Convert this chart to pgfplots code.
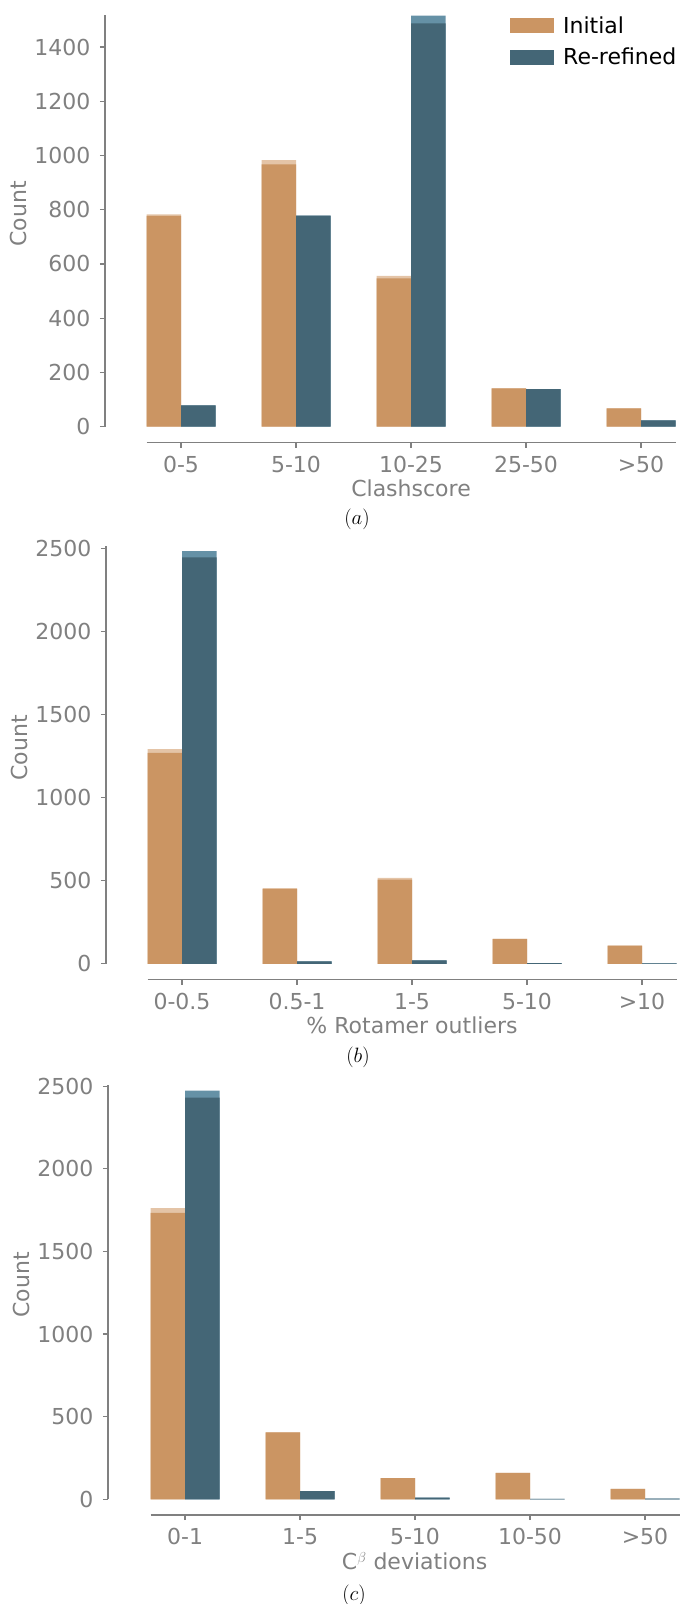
\documentclass[border=0pt]{standalone}
\usepackage[no-math]{fontspec}
\setmainfont{DejaVu Sans}
\usepackage{pgfplots}
\pgfplotsset{compat=1.18}
\definecolor{orng}{RGB}{203,149,99}
\definecolor{orngl}{RGB}{228,196,167}
\definecolor{blu}{RGB}{68,102,118}
\definecolor{blul}{RGB}{101,145,166}
\definecolor{txtgray}{RGB}{128,128,128}
\newcommand{\bigfont}{\fontsize{22}{26}\selectfont}
\pgfplotsset{
 sqleg/.style={legend image code/.code={\fill[##1] (0pt,-7.5pt) rectangle (44pt,7.5pt);}},
 panel/.style={
  scale only axis, clip=false, enlargelimits=false,
  axis lines=left, axis line style={draw=none},
  tick align=outside, major tick length=5pt,
  tick style={txtgray, line width=1.2pt},
  ybar, bar width=0.3,
  xtick={0,...,4},
  xmax=4.3,
  ticklabel style={font=\bigfont, text=txtgray},
  xticklabel style={yshift=-5pt},
  yticklabel style={xshift=-6pt},
  /pgf/number format/assume math mode=true,
  /pgf/number format/1000 sep={},
  scaled y ticks=false,
  ylabel={Count},
  every axis y label/.style={at={(axis description cs:-0.1516,0.535)}, rotate=90, anchor=center, font=\bigfont, text=txtgray},
  every axis x label/.style={at={(axis description cs:0.5364,0)}, yshift=-46pt, anchor=center, font=\bigfont, text=txtgray},
 },
}
\begin{document}
\begin{tikzpicture}
\path[use as bounding box] (0pt,0pt) rectangle (681pt,-1604pt);

% ---------- (a) Clashscore ----------
\begin{axis}[panel,
  at={(105pt,-442.7pt)}, anchor=south west,
  width=570.5pt, height=427.4pt,
  xmin=-0.661, ymin=-59, ymax=1517,
  ytick={0,200,...,1400},
  xticklabels={0-5,5-10,10-25,25-50,>50},
  xlabel={Clashscore},
  legend style={at={(axis description cs:0.7046,1.0065)}, anchor=north west, draw=none, fill=none, font=\bigfont, text=black, legend cell align=left, /tikz/column sep=7pt, /tikz/row sep=9pt},
]
\addplot[fill=orngl, draw=none, bar shift=-0.15, forget plot] coordinates {(0,783) (1,983) (2,556) (3,141) (4,68)};
\addplot[fill=blul, draw=none, bar shift=0.15, forget plot] coordinates {(0,79) (1,778) (2,1516) (3,139) (4,23)};
\addplot[fill=orng, draw=none, bar shift=-0.15, sqleg] coordinates {(0,777) (1,967) (2,547) (3,141) (4,68)};
\addplot[fill=blu, draw=none, bar shift=0.15, sqleg] coordinates {(0,79) (1,778) (2,1487) (3,139) (4,23)};
\legend{Initial, Re-refined}
\draw[txtgray, line width=1.2pt] (axis cs:-0.3,-59) -- (axis cs:4.3,-59);
\draw[txtgray, line width=1.2pt] (axis cs:-0.661,0) -- (axis cs:-0.661,1517);
\node[font=\bigfont, anchor=center] at (axis description cs:0.4417,0) [yshift=-77pt] {$(a)$};
\end{axis}

% ---------- (b) Rotamer ----------
\begin{axis}[panel,
  at={(106pt,-979.7pt)}, anchor=south west,
  width=570.5pt, height=433.3pt,
  xmin=-0.661, ymin=-95.7, ymax=2512,
  ytick={0,500,...,2500},
  xticklabels={0-0.5,0.5-1,1-5,5-10,>10},
  xlabel={\% Rotamer outliers},
]
\addplot[fill=orngl, draw=none, bar shift=-0.15] coordinates {(0,1292) (1,456) (2,517) (3,150) (4,110)};
\addplot[fill=blul, draw=none, bar shift=0.15] coordinates {(0,2483) (1,15) (2,21) (3,4) (4,2)};
\addplot[fill=orng, draw=none, bar shift=-0.15] coordinates {(0,1269) (1,450) (2,506) (3,150) (4,110)};
\addplot[fill=blu, draw=none, bar shift=0.15] coordinates {(0,2446) (1,15) (2,21) (3,4) (4,2)};
\draw[txtgray, line width=1.2pt] (axis cs:-0.3,-95.7) -- (axis cs:4.3,-95.7);
\draw[txtgray, line width=1.2pt] (axis cs:-0.661,0) -- (axis cs:-0.661,2512);
\node[font=\bigfont, anchor=center] at (axis description cs:0.4417,0) [yshift=-78pt] {$(b)$};
\end{axis}

% ---------- (c) C-beta ----------
\begin{axis}[panel,
  at={(108pt,-1515pt)}, anchor=south west,
  width=571.5pt, height=430pt,
  xmin=-0.670, ymin=-95, ymax=2507,
  ytick={0,500,...,2500},
  xticklabels={0-1,1-5,5-10,10-50,>50},
  xlabel={C$^{\beta}$ deviations},
]
\addplot[fill=orngl, draw=none, bar shift=-0.15] coordinates {(0,1762) (1,405) (2,129) (3,160) (4,63)};
\addplot[fill=blul, draw=none, bar shift=0.15] coordinates {(0,2473) (1,49) (2,11) (3,2) (4,4)};
\addplot[fill=orng, draw=none, bar shift=-0.15] coordinates {(0,1734) (1,405) (2,129) (3,160) (4,63)};
\addplot[fill=blu, draw=none, bar shift=0.15] coordinates {(0,2430) (1,49) (2,11) (3,2) (4,4)};
\draw[txtgray, line width=1.2pt] (axis cs:-0.3,-95) -- (axis cs:4.3,-95);
\draw[txtgray, line width=1.2pt] (axis cs:-0.670,0) -- (axis cs:-0.670,2507);
\node[font=\bigfont, anchor=center] at (axis description cs:0.4305,0) [yshift=-80pt] {$(c)$};
\end{axis}
\end{tikzpicture}
\end{document}
